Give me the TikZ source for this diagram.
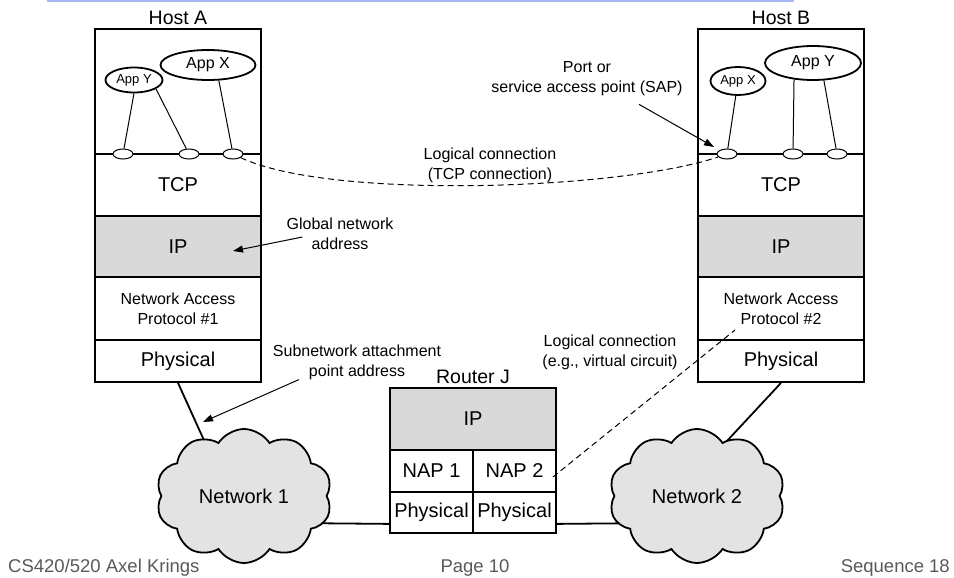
\documentclass[tikz,border=0pt]{standalone}
\usepackage{fontspec}
\setmainfont{Liberation Sans}
\usetikzlibrary{shapes.geometric,shapes.symbols,arrows.meta,backgrounds,calc}
\definecolor{ipgray}{HTML}{D9D9D9}
\definecolor{netgray}{HTML}{E3E3E3}
\definecolor{rulecol}{HTML}{A4B8F4}
\definecolor{footgray}{HTML}{595959}

\begin{document}
\begin{tikzpicture}[x=1pt,y=-1pt,
  cell/.style={draw,line width=1.8pt,rectangle,minimum width=166pt,inner sep=0pt,
    align=center,font=\fontsize{20}{22}\selectfont},
  rcell/.style={cell,minimum width=83pt},
  smallcell/.style={font=\fontsize{16}{20}\selectfont},
  app/.style={draw,ellipse,line width=1.8pt,inner sep=0pt,fill=white},
  port/.style={draw,ellipse,line width=1pt,fill=white,minimum width=20pt,
    minimum height=10pt,inner sep=0pt},
  title/.style={font=\fontsize{19.5}{22}\selectfont,inner sep=0pt},
  label/.style={font=\fontsize{16}{20}\selectfont,align=center,inner sep=0pt},
  wire/.style={line width=1.8pt},
  link/.style={line width=1pt},
  pointer/.style={line width=1pt,-{Triangle[length=10pt,width=7pt]}},
  dashline/.style={line width=1pt,dash pattern=on 6pt off 4pt},
  netcloud/.style={draw,cloud,cloud puffs=10,cloud puff arc=115,aspect=1.31,
    line width=1.8pt,fill=netgray,minimum width=176pt,minimum height=134pt,
    inner sep=0pt,font=\fontsize{20}{22}\selectfont},
  footer/.style={font=\fontsize{18.5}{20}\selectfont,text=footgray,inner sep=0pt}
]
\useasboundingbox (0,0) rectangle (954,578);

% header rule
\draw[rulecol,line width=2pt] (47,1) -- (794,1);

% ---------- Host A ----------
\node[title] (hostA) at (178,18) {Host A};
\node[cell,minimum height=125pt] (topA) at (178,91.5) {};
\node[cell,minimum height=62pt] (tcpA) at (178,185) {TCP};
\node[cell,fill=ipgray,minimum height=61pt] (ipA) at (178,246.5) {IP};
\node[cell,smallcell,minimum height=63pt] (nacA) at (178,308.5) {Network Access\\Protocol \#1};
\node[cell,minimum height=42pt] (phyA) at (178,361) {Physical};

\node[app,minimum width=57pt,minimum height=25pt,font=\fontsize{13}{15}\selectfont] (appYA) at (134,80) {App Y};
\node[app,minimum width=95pt,minimum height=30pt,font=\fontsize{16}{18}\selectfont] (appXA) at (208,65) {App X};
\node[port] (pA1) at (123,154) {};
\node[port] (pA2) at (189,154) {};
\node[port] (pA3) at (233,154) {};
\draw[link] (appYA.south) -- (pA1);
\draw[link] (appYA.338) -- (pA2);
\draw[link] (appXA.305) -- (pA3);

% ---------- Host B ----------
\node[title] (hostB) at (781,18) {Host B};
\node[cell,minimum height=125pt] (topB) at (781,91.5) {};
\node[cell,minimum height=62pt] (tcpB) at (781,185) {TCP};
\node[cell,fill=ipgray,minimum height=61pt] (ipB) at (781,246.5) {IP};
\node[cell,smallcell,minimum height=63pt] (nacB) at (781,308.5) {Network Access\\Protocol \#2};
\node[cell,minimum height=42pt] (phyB) at (781,361) {Physical};

\node[app,minimum width=55pt,minimum height=28pt,font=\fontsize{13}{15}\selectfont] (appXB) at (738,81) {App X};
\node[app,minimum width=96pt,minimum height=34pt,font=\fontsize{16}{18}\selectfont] (appYB) at (813,63) {App Y};
\node[port] (pB1) at (727,154) {};
\node[port] (pB2) at (793,154) {};
\node[port] (pB3) at (837,154) {};
\draw[link] (appXB) -- (pB1);
\draw[link] (appYB.221) -- (pB2);
\draw[link] (appYB.302) -- (pB3);

% ---------- Router J ----------
\node[title] (routerJ) at (473,377) {Router J};
\node[cell,fill=ipgray,minimum height=62pt] (ipR) at (473,419) {IP};
\node[rcell,minimum height=42pt] (nap1) at (431.5,471) {NAP 1};
\node[rcell,minimum height=42pt] (nap2) at (514.5,471) {NAP 2};
\node[rcell,minimum height=41pt] (phyR1) at (431.5,512.5) {Physical};
\node[rcell,minimum height=41pt] (phyR2) at (514.5,512.5) {Physical};

% ---------- Networks ----------
\node[netcloud] (net1) at (244,496) {Network 1};
\node[netcloud] (net2) at (697,496) {Network 2};

\coordinate (net1in) at (222,480);
\coordinate (net2in) at (700,470);
\coordinate (net1r) at (290,523);
\coordinate (net2l) at (660,523);
\begin{scope}[on background layer]
  \draw[wire] (phyA.south) -- (net1in);
  \draw[wire] (phyB.south) -- (net2in);
  \draw[wire] ([shift={(0,-10)}]phyR1.south west) -- (net1r);
  \draw[wire] ([shift={(0,-10)}]phyR2.south east) -- (net2l);
\end{scope}

% ---------- Logical connections ----------
\draw[dashline] (pA3) .. controls (330,200) and (620,190) .. (pB1);
\node[label] (tcpconn) at (490,165) {Logical connection\\(TCP connection)};

\coordinate (vcB) at (735,330);
\draw[dashline] ([shift={(-4,6)}]nap2.east) -- (vcB);
\node[label] (vcconn) at (610,352) {Logical connection\\(e.g., virtual circuit)};

% ---------- Annotations ----------
\node[label] (sap) at (587,79) {Port or\\service access point (SAP)};
\draw[pointer] ([shift={(52,8)}]sap.south) -- ([shift={(-13,-7)}]pB1.center);

\node[label] (gna) at (340,233.5) {Global network\\address};
\coordinate (ipAaddr) at (233,251);
\draw[pointer] ([shift={(16,3.5)}]gna.west) -- (ipAaddr);

\node[label] (sna) at (357,362) {Subnetwork attachment\\point address};
\coordinate (snaTip) at (203,422);
\draw[pointer] ([shift={(26,0)}]sna.south west) -- (snaTip);

% ---------- Footer ----------
\node[footer,anchor=base west] (ft1) at (8,572) {CS420/520 Axel Krings};
\node[footer,anchor=base] (ft2) at (475,572) {Page 10};
\node[footer,anchor=base east] (ft3) at (950,572) {Sequence 18};
\end{tikzpicture}
\end{document}
